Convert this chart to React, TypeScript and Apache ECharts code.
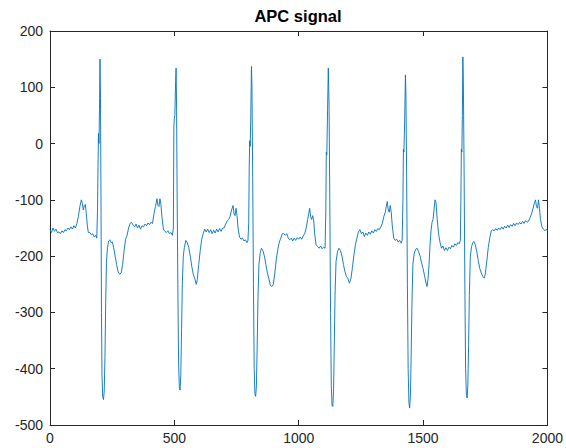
import React, { useEffect, useRef } from "react";
import * as echarts from "echarts";

const TITLE = "APC signal";
const X_MIN = 0;
const X_MAX = 2000;
const X_STEP = 500;
const Y_MIN = -500;
const Y_MAX = 200;
const Y_STEP = 100;

// signal samples: [sample index, amplitude]
const beat1: [number, number][] = [
  [0,-153],[6,-158],[12,-150],[18,-156],[24,-152],[30,-158],[36,-157],[42,-160],[48,-155],[54,-158],
  [60,-153],[66,-155],[72,-150],[78,-153],[84,-148],[90,-152],[96,-146],[102,-150],[108,-142],[114,-130],
  [120,-112],[126,-100],[130,-106],[134,-118],[138,-110],[142,-108],[146,-125],[150,-145],[154,-158],[160,-158],
  [166,-162],[172,-160],[178,-166],[184,-163],[188,-168],[191,-120],[193,-40],[195,18],[197,0],[199,60],
  [201,150],[203,80],[205,-100],[207,-300],[209,-410],[212,-450],[215,-455],[218,-440],[221,-380],[224,-280],
  [227,-210],[231,-185],[236,-173],[241,-171],[246,-176],[251,-175],[256,-185],[262,-200],[268,-215],[274,-228],
  [280,-232],[286,-230],[292,-215],[298,-190],[304,-170],[310,-163],[316,-150],[322,-142],[328,-140],[334,-145],
  [340,-148],[346,-143],[352,-150],[358,-145],[364,-152],[370,-146],[376,-148],[382,-143],[388,-146],[394,-141],
  [400,-144],[406,-140],[412,-142],
];
const beat2: [number, number][] = [
  [418,-125],[424,-112],[430,-98],[434,-110],[438,-112],[442,-98],[446,-108],[450,-130],[456,-152],[462,-156],
  [468,-158],[474,-155],[480,-160],[486,-158],[492,-163],[496,-150],[498,30],[500,45],[502,50],[505,110],
  [507,134],[509,60],[511,-80],[514,-250],[517,-390],[520,-432],[523,-438],[526,-410],[529,-330],[532,-250],
  [536,-200],[540,-185],[546,-172],[552,-176],[558,-185],[564,-200],[570,-218],[576,-232],[582,-240],[588,-250],
  [592,-242],[598,-215],[604,-190],[610,-170],[616,-160],[622,-152],[628,-157],[634,-152],[640,-158],[646,-153],
  [652,-160],[658,-154],[664,-159],[670,-152],[676,-157],[682,-151],[688,-156],[694,-150],[700,-150],[706,-143],
  [712,-138],
];
const beat3: [number, number][] = [
  [718,-135],[724,-130],[730,-118],[736,-110],[740,-125],[744,-128],[748,-115],[752,-128],[756,-150],[762,-166],
  [768,-170],[774,-168],[780,-173],[786,-171],[792,-176],[796,-172],[799,-140],[801,-40],[803,5],[805,-5],
  [807,40],[810,137],[812,100],[815,-60],[818,-250],[821,-400],[824,-445],[827,-449],[830,-430],[833,-360],
  [836,-280],[840,-215],[845,-195],[850,-186],[856,-190],[862,-200],[868,-215],[874,-230],[880,-240],[886,-252],
  [892,-254],[898,-250],[904,-230],[910,-205],[916,-188],[922,-175],[928,-168],[934,-160],[940,-160],[946,-163],
  [952,-160],[958,-168],[964,-171],[970,-168],[976,-173],[982,-168],[988,-172],[994,-167],[1000,-170],[1006,-166],
  [1012,-170],[1018,-164],[1024,-160],
];
const beat4: [number, number][] = [
  [1030,-150],[1036,-135],[1040,-125],[1044,-115],[1048,-130],[1052,-135],[1056,-128],[1060,-135],[1064,-160],[1070,-180],
  [1076,-183],[1082,-186],[1088,-182],[1094,-187],[1100,-184],[1106,-186],[1109,-120],[1111,-15],[1113,-20],[1116,60],
  [1119,134],[1122,70],[1125,-100],[1128,-300],[1131,-430],[1134,-465],[1137,-467],[1140,-440],[1143,-360],[1146,-270],
  [1150,-210],[1156,-192],[1162,-186],[1168,-190],[1174,-200],[1180,-215],[1186,-228],[1192,-236],[1198,-240],[1204,-248],
  [1210,-240],[1216,-220],[1222,-198],[1228,-180],[1234,-168],[1240,-157],[1246,-153],[1252,-160],[1258,-157],[1264,-165],
  [1270,-159],[1276,-163],[1282,-157],[1288,-161],[1294,-155],[1300,-159],[1306,-153],[1312,-156],[1318,-151],[1324,-153],
  [1330,-148],[1336,-142],[1342,-130],
];
const beat5: [number, number][] = [
  [1348,-122],[1352,-112],[1356,-103],[1360,-118],[1364,-122],[1368,-110],[1372,-122],[1376,-145],[1382,-168],[1388,-172],
  [1394,-170],[1400,-175],[1406,-172],[1412,-177],[1416,-172],[1419,-100],[1421,-10],[1423,-15],[1426,40],[1429,122],
  [1431,90],[1434,-60],[1437,-250],[1440,-400],[1443,-460],[1446,-470],[1449,-450],[1452,-380],[1455,-290],[1459,-215],
  [1464,-196],[1470,-188],[1476,-186],[1482,-192],[1488,-200],[1494,-212],[1500,-222],[1506,-235],[1512,-248],[1516,-254],
  [1520,-240],[1524,-215],[1528,-180],[1532,-155],[1536,-140],[1540,-135],[1544,-118],[1548,-100],[1552,-105],[1556,-130],
  [1560,-150],[1564,-165],[1568,-175],[1574,-186],[1580,-182],[1586,-190],[1592,-185],[1598,-190],[1604,-184],[1610,-187],
  [1616,-181],[1622,-184],[1628,-178],[1634,-181],[1640,-176],[1646,-178],[1650,-172],
];
const beat6: [number, number][] = [
  [1652,-100],[1654,-10],[1656,-15],[1658,50],[1660,154],[1662,110],[1665,-50],[1668,-250],[1671,-400],[1674,-445],
  [1677,-452],[1680,-430],[1683,-360],[1686,-270],[1690,-200],[1695,-183],[1700,-176],[1705,-174],[1710,-180],[1716,-192],
  [1722,-208],[1728,-222],[1734,-230],[1740,-236],[1746,-239],[1750,-232],[1756,-210],[1762,-185],[1768,-168],[1774,-155],
  [1780,-153],[1786,-155],[1792,-151],[1798,-154],[1804,-150],[1810,-153],[1816,-148],[1822,-152],[1828,-147],[1834,-150],
  [1840,-145],[1846,-149],[1852,-144],[1858,-147],[1864,-142],[1870,-146],[1876,-141],[1882,-144],[1888,-140],[1894,-143],
  [1900,-138],[1906,-142],[1912,-137],[1918,-140],[1924,-138],[1930,-132],[1936,-125],[1942,-115],[1948,-105],[1952,-100],
  [1956,-112],[1960,-115],[1964,-100],[1968,-115],[1972,-135],[1978,-148],[1984,-152],[1990,-155],[1996,-152],[2000,-155],
];

const signal: [number, number][] = [...beat1, ...beat2, ...beat3, ...beat4, ...beat5, ...beat6];

const AXIS_COLOR = "#262626";
const FONT = "'Liberation Sans', Arial, Helvetica, sans-serif";

export default function App() {
  const ref = useRef<HTMLDivElement>(null);
  useEffect(() => {
    document.body.style.margin = "0";
    if (!ref.current) return;
    const chart = echarts.init(ref.current, undefined, { renderer: "svg" });
    const tick = { show: true, inside: true, length: 5, lineStyle: { color: AXIS_COLOR, width: 1 } };
    const line = { show: true, onZero: false, lineStyle: { color: AXIS_COLOR, width: 1 } };
    const label = { color: AXIS_COLOR, fontSize: 14, fontFamily: FONT, formatter: (v: number) => String(v) };
    chart.setOption({
      animation: false,
      backgroundColor: "#ffffff",
      title: {
        text: TITLE,
        left: 298,
        textAlign: "center",
        top: 5,
        padding: [2, 0, 2, 0],
        textStyle: { fontSize: 16.5, fontWeight: "bold", color: "#000000", fontFamily: FONT },
      },
      grid: { left: 50, right: 18, top: 31, bottom: 23, containLabel: false },
      xAxis: [
        {
          type: "value", min: X_MIN, max: X_MAX, interval: X_STEP, position: "bottom",
          axisLine: line, axisTick: tick, splitLine: { show: false },
          axisLabel: { ...label, margin: 6 },
        },
        {
          type: "value", min: X_MIN, max: X_MAX, interval: X_STEP, position: "top",
          axisLine: line, axisTick: tick, splitLine: { show: false }, axisLabel: { show: false },
        },
      ],
      yAxis: [
        {
          type: "value", min: Y_MIN, max: Y_MAX, interval: Y_STEP, position: "left",
          axisLine: line, axisTick: tick, splitLine: { show: false },
          axisLabel: { ...label, margin: 7 },
        },
        {
          type: "value", min: Y_MIN, max: Y_MAX, interval: Y_STEP, position: "right",
          axisLine: line, axisTick: tick, splitLine: { show: false }, axisLabel: { show: false },
        },
      ],
      series: [
        {
          type: "line",
          data: signal,
          xAxisIndex: 0,
          yAxisIndex: 0,
          showSymbol: false,
          symbol: "none",
          lineStyle: { color: "#0072BD", width: 0.9 },
        },
      ],
    });
    return () => chart.dispose();
  }, []);
  return <div ref={ref} style={{ width: 566, height: 448 }} />;
}
